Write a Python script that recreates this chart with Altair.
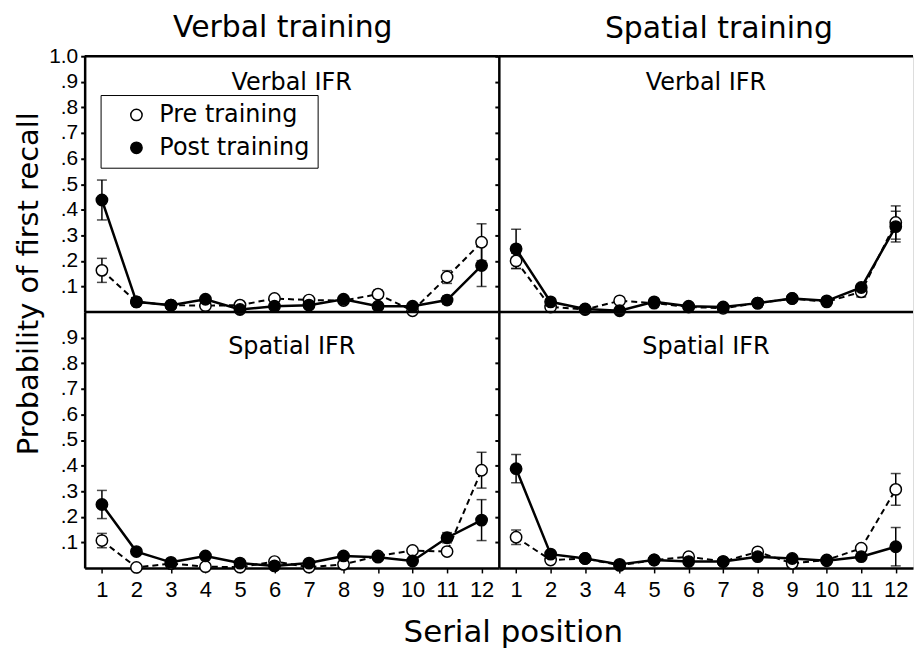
import altair as alt
import pandas as pd

# ---------------- data ----------------
positions = list(range(1, 13))
series_names = ["Pre training", "Post training"]

# Verbal training / Verbal IFR
tl_pre = [0.163, 0.040, 0.027, 0.025, 0.027, 0.053, 0.047, 0.045, 0.070, 0.005, 0.137, 0.273]
tl_pre_err = [0.047, 0, 0, 0, 0, 0, 0, 0, 0.015, 0, 0.025, 0.072]
tl_post = [0.438, 0.040, 0.027, 0.050, 0.010, 0.023, 0.027, 0.050, 0.023, 0.023, 0.047, 0.182]
tl_post_err = [0.078, 0, 0, 0, 0, 0, 0, 0, 0, 0, 0.015, 0.082]

# Spatial training / Verbal IFR
tr_pre = [0.200, 0.020, 0.010, 0.044, 0.035, 0.020, 0.015, 0.035, 0.053, 0.040, 0.079, 0.350]
tr_pre_err = [0.030, 0, 0, 0, 0, 0, 0, 0, 0, 0, 0.020, 0.065]
tr_post = [0.247, 0.040, 0.012, 0.005, 0.040, 0.023, 0.020, 0.035, 0.053, 0.044, 0.096, 0.334]
tr_post_err = [0.077, 0, 0, 0, 0, 0, 0, 0, 0, 0, 0, 0.060]

# Verbal training / Spatial IFR
bl_pre = [0.107, 0.002, 0.017, 0.005, 0.003, 0.025, 0.003, 0.014, 0.047, 0.068, 0.064, 0.382]
bl_pre_err = [0.028, 0, 0, 0, 0, 0, 0, 0, 0, 0, 0, 0.070]
bl_post = [0.248, 0.064, 0.022, 0.047, 0.019, 0.008, 0.019, 0.047, 0.042, 0.027, 0.118, 0.187]
bl_post_err = [0.055, 0, 0, 0, 0, 0, 0, 0, 0, 0, 0.020, 0.080]

# Spatial training / Spatial IFR
br_pre = [0.120, 0.031, 0.037, 0.010, 0.031, 0.044, 0.025, 0.063, 0.018, 0.031, 0.077, 0.307]
br_pre_err = [0.028, 0, 0, 0, 0, 0, 0, 0, 0, 0, 0, 0.062]
br_post = [0.388, 0.054, 0.037, 0.014, 0.031, 0.025, 0.025, 0.044, 0.037, 0.028, 0.044, 0.083]
br_post_err = [0.055, 0, 0, 0, 0, 0, 0, 0, 0, 0, 0, 0.075]

column_titles = ["Verbal training", "Spatial training"]
panel_labels = ["Verbal IFR", "Spatial IFR"]
panel_label_y = [0.867, 0.835]
top_ticks = [0.1, 0.2, 0.3, 0.4, 0.5, 0.6, 0.7, 0.8, 0.9, 1.0]
bottom_ticks = [0.1, 0.2, 0.3, 0.4, 0.5, 0.6, 0.7, 0.8, 0.9]

# ---------------- layout ----------------
W, H = 416, 257
WORD_FONT = "DejaVu Sans"
NUM_FONT = "Liberation Sans"
XS = alt.Scale(domain=[0.5, 12.5], nice=False, zero=False)
YS = alt.Scale(domain=[0, 1], nice=False, zero=True)
FS = alt.Scale(domain=series_names, range=["white", "black"])
YLABEL = "datum.value >= 1 ? '1.0' : '.' + round(datum.value * 10)"
TITLE_OFFSETS = [-28, -19]
TITLE_DX = [-9, 13]


def axes(row, col):
    if row == 0:
        xa = alt.Axis(values=positions, labels=False, ticks=False, domain=False,
                      grid=False, title=None)
    else:
        kw = dict(values=positions, labelFont=NUM_FONT, labelFontSize=22,
                  labelColor="black", tickSize=5, tickColor="black", tickWidth=1.5,
                  labelPadding=7, domainColor="black", domainWidth=2.5, grid=False,
                  labelFlush=False, labelOverlap=False)
        if col == 0:
            xa = alt.Axis(title="Serial position", titleFont=WORD_FONT, titleFontSize=31,
                          titleFontWeight="normal", titleColor="black", titleX=W + 14,
                          titleY=74, titleBaseline="alphabetic", titleAlign="center", **kw)
        else:
            xa = alt.Axis(title=None, **kw)
    vals = top_ticks if row == 0 else bottom_ticks
    ykw = dict(values=vals, tickSize=4, tickColor="black", tickWidth=2,
               domainColor="black", domainWidth=2.5, grid=False)
    if col == 0:
        ykw.update(labelExpr=YLABEL, labelFont=NUM_FONT, labelFontSize=21,
                   labelColor="black", labelPadding=3, labelFlush=False, labelOverlap=False)
        if row == 0:
            ya = alt.Axis(title="Probability of first recall", titleFont=WORD_FONT,
                          titleFontSize=29, titleFontWeight="normal", titleColor="black",
                          titleX=-56, titleY=228, titleAlign="center",
                          titleBaseline="middle", titleAngle=270, **ykw)
        else:
            ya = alt.Axis(title=None, **ykw)
    else:
        ya = alt.Axis(title=None, labels=False, **ykw)
    return xa, ya


def panel(pre, pre_err, post, post_err, row, col):
    df = pd.DataFrame({
        "pos": positions * 2,
        "val": pre + post,
        "err": pre_err + post_err,
        "series": [series_names[0]] * 12 + [series_names[1]] * 12,
    })
    df["lo"] = df["val"] - df["err"]
    df["hi"] = df["val"] + df["err"]
    xa, ya = axes(row, col)
    X = alt.X("pos:Q", scale=XS, axis=xa)
    Y = alt.Y("val:Q", scale=YS, axis=ya)
    base = alt.Chart(df)

    pre_line = base.transform_filter(f"datum.series == '{series_names[0]}'").mark_line(
        color="black", strokeWidth=2, strokeDash=[6, 4]).encode(x=X, y=Y)
    post_line = base.transform_filter(f"datum.series == '{series_names[1]}'").mark_line(
        color="black", strokeWidth=2.5).encode(x=X, y=Y)
    ebase = base.transform_filter("datum.err > 0")
    err_rule = ebase.mark_rule(color="black", strokeWidth=1.5).encode(
        x=X, y=alt.Y("lo:Q", scale=YS, axis=ya), y2="hi:Q")
    cap_lo = ebase.mark_tick(color="black", thickness=1.5, size=10, orient="horizontal").encode(
        x=X, y=alt.Y("lo:Q", scale=YS, axis=ya))
    cap_hi = ebase.mark_tick(color="black", thickness=1.5, size=10, orient="horizontal").encode(
        x=X, y=alt.Y("hi:Q", scale=YS, axis=ya))

    if row == 0 and col == 0:
        leg = alt.Legend(title=None, orient="none", legendX=16, legendY=39,
                         direction="vertical", labelFont=WORD_FONT, labelFontSize=24,
                         labelColor="black", symbolType="circle", symbolSize=130,
                         symbolStrokeColor="black", symbolStrokeWidth=1.5,
                         strokeColor="black", padding=8, rowPadding=9,
                         labelOffset=11, symbolOffset=16, fillColor="white")
    else:
        leg = None
    points = base.mark_point(shape="circle", filled=True, size=130, stroke="black",
                             strokeWidth=1.5, opacity=1).encode(
        x=X, y=Y, fill=alt.Fill("series:N", scale=FS, legend=leg))

    tdf = pd.DataFrame({"x": [6.5], "y": [panel_label_y[row]], "t": [panel_labels[row]]})
    label = alt.Chart(tdf).mark_text(font=WORD_FONT, fontSize=24, color="black",
                                     baseline="alphabetic", align="center").encode(
        x=alt.X("x:Q", scale=XS, axis=xa), y=alt.Y("y:Q", scale=YS, axis=ya), text="t:N")

    # top border of each panel (the bottom row's top border is the divider line)
    border = alt.Chart(tdf).mark_rule(color="black", strokeWidth=2.5).encode(
        y=alt.datum(1.0, scale=YS, axis=ya))
    layers = [pre_line, post_line, err_rule, cap_lo, cap_hi, points, label, border]
    ch = alt.layer(*layers).properties(width=W, height=H)
    if row == 0:
        ch = ch.properties(title=alt.TitleParams(
            column_titles[col], font=WORD_FONT, fontSize=30, fontWeight="normal",
            color="black", anchor="middle", baseline="bottom",
            offset=TITLE_OFFSETS[col], dx=TITLE_DX[col], frame="group"))
    return ch


tl = panel(tl_pre, tl_pre_err, tl_post, tl_post_err, 0, 0)
tr = panel(tr_pre, tr_pre_err, tr_post, tr_post_err, 0, 1)
bl = panel(bl_pre, bl_pre_err, bl_post, bl_post_err, 1, 0)
br = panel(br_pre, br_pre_err, br_post, br_post_err, 1, 1)

chart = alt.concat(tl, tr, bl, br, columns=2, spacing=0, bounds="flush").properties(
    padding={"left": 6, "top": 3, "right": 0, "bottom": 0}
).configure_view(stroke=None).configure(background="white")

chart.save("out.html", embed_options={"renderer": "svg", "actions": False})
